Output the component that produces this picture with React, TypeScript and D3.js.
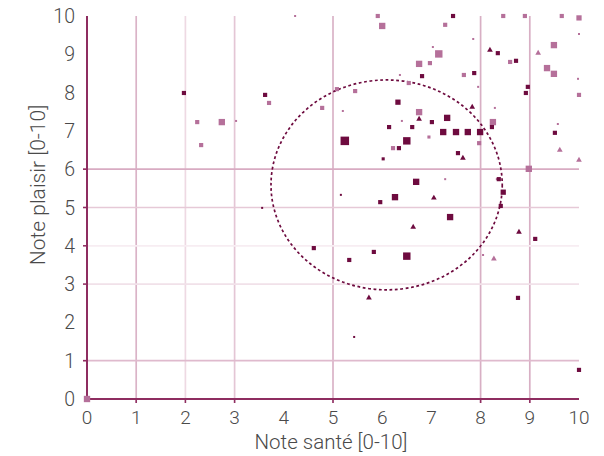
import React from "react";
import * as d3 from "d3";

// [santé, plaisir, poids]
const darkSquares: [number, number, number][] = [
  [1.97, 7.99, 2], [3.62, 7.94, 2], [7.44, 10.0, 2], [6.81, 8.43, 2], [7.87, 8.51, 2],
  [6.32, 7.75, 2.5], [6.14, 7.1, 2], [6.61, 7.1, 2], [7.01, 7.23, 2], [7.32, 7.34, 3],
  [7.24, 6.97, 3], [7.5, 6.97, 3], [7.74, 6.97, 3], [7.99, 6.97, 3],
  [5.24, 6.74, 4], [6.5, 6.74, 3.5], [8.23, 7.1, 2], [6.34, 6.55, 2], [8.96, 8.15, 2],
  [8.92, 7.99, 2], [8.72, 8.83, 2], [8.35, 9.03, 2], [9.51, 6.95, 2], [7.54, 6.42, 2],
  [8.37, 5.74, 2], [8.46, 5.4, 2.5], [6.69, 5.67, 3], [6.02, 6.27, 1.5], [5.16, 5.33, 1],
  [6.26, 5.27, 3], [5.96, 5.14, 2], [3.56, 4.99, 1], [7.38, 4.75, 3], [4.61, 3.94, 2],
  [5.83, 3.84, 2], [5.33, 3.63, 2], [6.5, 3.73, 3.5], [9.11, 4.18, 2], [8.41, 5.04, 2],
  [8.76, 2.64, 2], [5.43, 1.62, 1], [10.0, 0.76, 2],
];
const darkTriangles: [number, number][] = [
  [6.75, 7.31], [7.83, 7.62], [7.64, 6.29], [7.05, 5.25], [6.63, 4.49],
  [8.78, 4.36], [5.73, 2.64], [8.19, 9.11],
];
const lightSquares: [number, number, number][] = [
  [2.24, 7.23, 2], [2.74, 7.23, 3], [3.03, 7.26, 1], [2.32, 6.63, 2], [3.7, 7.73, 2],
  [4.23, 10.0, 1], [5.91, 10.0, 2], [6.0, 9.74, 3], [7.28, 9.77, 2], [7.85, 9.4, 1],
  [7.03, 9.19, 1], [7.15, 9.01, 3.5], [6.97, 8.77, 2], [6.75, 8.75, 3], [6.36, 8.46, 1],
  [6.54, 8.25, 2], [7.95, 8.15, 1], [5.08, 8.09, 2], [5.45, 8.04, 2], [4.78, 7.6, 2],
  [5.2, 7.52, 1], [6.75, 7.49, 3], [6.4, 7.26, 1], [6.95, 6.84, 1.5], [6.22, 6.55, 2],
  [8.25, 7.23, 3], [8.29, 7.6, 1], [7.97, 6.68, 2], [7.66, 8.46, 2], [8.46, 10.0, 2],
  [8.9, 10.0, 2], [9.65, 10.0, 2], [10.0, 9.95, 2.5], [10.0, 9.53, 1], [9.49, 9.24, 3],
  [8.6, 8.8, 2], [9.35, 8.64, 3], [9.49, 8.49, 3], [9.98, 8.36, 1], [10.0, 7.94, 2],
  [9.57, 7.18, 1], [8.98, 6.01, 3], [7.28, 5.74, 1], [8.33, 5.74, 1], [8.05, 3.76, 1],
  [0, 0, 3],
];
const lightTriangles: [number, number][] = [
  [9.17, 9.03], [9.61, 6.5], [10.0, 6.24], [8.27, 3.66],
];
// [centre santé, centre plaisir, demi-axe santé, demi-axe plaisir]
const zone: [number, number, number, number][] = [[6.09, 5.59, 2.35, 2.74]];

const tickValues = [0, 1, 2, 3, 4, 5, 6, 7, 8, 9, 10];
const xGrid = [1, 2, 3, 5, 8, 9];
const yGrid = [1, 3, 4, 5, 6];
const xTitle = "Note santé [0-10]";
const yTitle = "Note plaisir [0-10]";

const DARK = "#6e0b3f";
const LIGHT = "#b5709a";
const AXIS = "#8e2d60";
const FONT = "Roboto, 'DejaVu Sans', sans-serif";

const xGridColor: Record<number, string> = { 1: "#dab3c7", 2: "#eed9e3", 3: "#e4c6d5", 5: "#dab3c7", 8: "#d8afc4", 9: "#d8afc4" };
const yGridColor: Record<number, string> = { 1: "#dfbacd", 3: "#f1e1e9", 4: "#f7edf2", 5: "#e6c9d7", 6: "#d8abc2" };

export default function App() {
  const x = d3.scaleLinear().domain([0, 10]).range([87, 579]);
  const y = d3.scaleLinear().domain([0, 10]).range([399, 16]);
  const size = d3.scaleLinear().domain([1, 4]).range([2, 8.5]);
  const tri = d3.symbol().type(d3.symbolTriangle).size(14)() as string;

  return (
    <svg width={604} height={456} style={{ position: "absolute", left: 0, top: 0, background: "#fff" }}>
      {/* grid */}
      {xGrid.map((v) => (
        <line key={"gx" + v} x1={x(v)} x2={x(v)} y1={y(10)} y2={y(0) + 4} stroke={xGridColor[v]} strokeWidth={1.7} />
      ))}
      {yGrid.map((v) => (
        <line key={"gy" + v} x1={x(0) - 4} x2={x(10)} y1={y(v)} y2={y(v)} stroke={yGridColor[v]} strokeWidth={1.7} />
      ))}
      {xGrid.map((v) => (
        <line key={"tx" + v} x1={x(v)} x2={x(v)} y1={y(0)} y2={y(0) + 4} stroke={AXIS} strokeWidth={1.5} />
      ))}
      {yGrid.map((v) => (
        <line key={"ty" + v} x1={x(0) - 4} x2={x(0)} y1={y(v)} y2={y(v)} stroke={AXIS} strokeWidth={1.5} />
      ))}
      {/* axes */}
      <line x1={x(0)} x2={x(0)} y1={y(10)} y2={y(0)} stroke={AXIS} strokeWidth={2} />
      <line x1={x(0)} x2={x(10)} y1={y(0)} y2={y(0)} stroke={AXIS} strokeWidth={2} />

      {/* zone */}
      {zone.map(([cx, cy, rx, ry], i) => (
        <ellipse
          key={"z" + i}
          cx={x(cx)}
          cy={y(cy)}
          rx={x(cx + rx) - x(cx)}
          ry={y(cy) - y(cy + ry)}
          fill="none"
          stroke={DARK}
          strokeWidth={1.7}
          strokeDasharray="2.8 2.6"
        />
      ))}

      {/* points */}
      {lightSquares.map(([a, b, w], i) => {
        const s = size(w);
        return <rect key={"ls" + i} x={x(a) - s / 2} y={y(b) - s / 2} width={s} height={s} fill={LIGHT} />;
      })}
      {lightTriangles.map(([a, b], i) => (
        <path key={"lt" + i} d={tri} transform={`translate(${x(a)},${y(b)})`} fill={LIGHT} />
      ))}
      {darkSquares.map(([a, b, w], i) => {
        const s = size(w);
        return <rect key={"ds" + i} x={x(a) - s / 2} y={y(b) - s / 2} width={s} height={s} fill={DARK} />;
      })}
      {darkTriangles.map(([a, b], i) => (
        <path key={"dt" + i} d={tri} transform={`translate(${x(a)},${y(b)})`} fill={DARK} />
      ))}

      {/* tick labels */}
      {tickValues.map((v) => (
        <text key={"xl" + v} x={x(v)} y={424} textAnchor="middle" fontFamily={FONT} fontWeight={300} fontSize={19} fill="#4a4a4a">
          {v}
        </text>
      ))}
      {tickValues.map((v) => (
        <text key={"yl" + v} x={75} y={y(v)} dy="0.36em" textAnchor="end" fontFamily={FONT} fontWeight={300} fontSize={19.5} fill="#4a4a4a">
          {v}
        </text>
      ))}
      <text x={331} y={449} textAnchor="middle" fontFamily={FONT} fontWeight={300} fontSize={20.5} fill="#4a4a4a">
        {xTitle}
      </text>
      <text
        transform={`translate(45,${185}) rotate(-90)`}
        textAnchor="middle"
        fontFamily={FONT}
        fontWeight={300}
        fontSize={21}
        fill="#4a4a4a"
      >
        {yTitle}
      </text>
    </svg>
  );
}
